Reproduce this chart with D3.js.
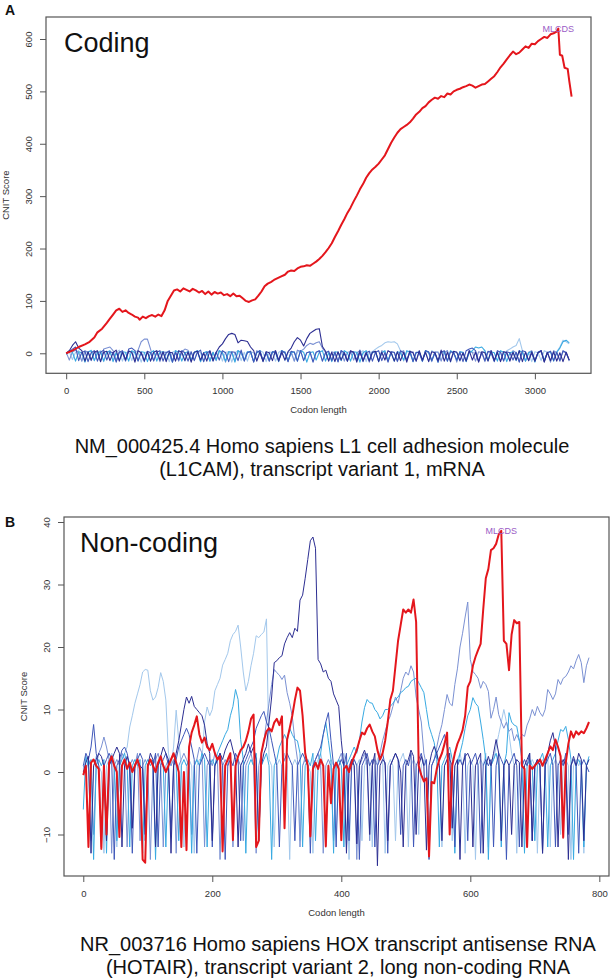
<!DOCTYPE html>
<html><head><meta charset="utf-8">
<script src="https://cdn.jsdelivr.net/npm/d3@7"></script>
<style>body{margin:0;background:#fff}svg{display:block}</style>
</head><body>
<svg id="chart" width="614" height="978"></svg>
<script>
// ---------- DATA ----------
const xTicksA = [0, 500, 1000, 1500, 2000, 2500, 3000];
const yTicksA = [0, 100, 200, 300, 400, 500, 600];
const xTicksB = [0, 200, 400, 600, 800];
const yTicksB = [-10, 0, 10, 20, 30, 40];

// Panel A: red frame (MLCDS) as [codon, score]
const redA = [[0,0],[40,5],[80,12],[120,17],[150,22],[180,30],[200,40],[230,47],[260,58],[280,66],[300,74],[320,82],[340,85],[360,79],[380,82],[400,77],[420,74],[440,70],[460,68],[470,64],[490,70],[510,67],[530,71],[550,73],[570,70],[590,74],[610,71],[630,82],[650,100],[670,110],[690,120],[710,122],[730,118],[750,124],[770,121],[790,118],[810,123],[830,120],[850,116],[870,119],[890,113],[910,118],[930,112],[950,117],[970,114],[990,116],[1010,111],[1030,113],[1050,109],[1070,114],[1090,109],[1110,110],[1130,105],[1150,100],[1170,98],[1190,101],[1210,103],[1230,110],[1250,118],[1270,128],[1290,133],[1310,136],[1330,140],[1350,143],[1370,146],[1400,150],[1420,156],[1440,158],[1460,157],[1480,162],[1500,165],[1520,166],[1540,168],[1560,167],[1580,171],[1600,175],[1620,180],[1640,186],[1660,193],[1680,201],[1700,210],[1720,222],[1740,233],[1760,245],[1780,256],[1800,268],[1820,278],[1840,290],[1860,301],[1880,313],[1900,323],[1920,335],[1940,344],[1960,351],[1980,356],[2000,362],[2020,370],[2040,378],[2060,390],[2080,402],[2100,412],[2120,421],[2140,428],[2160,432],[2180,436],[2200,441],[2220,448],[2240,456],[2260,461],[2280,468],[2300,472],[2320,479],[2340,484],[2360,488],[2380,486],[2400,491],[2420,489],[2440,496],[2460,494],[2480,500],[2500,503],[2520,505],[2540,508],[2560,510],[2580,513],[2600,511],[2620,507],[2640,510],[2660,513],[2680,514],[2700,519],[2720,524],[2740,529],[2760,537],[2780,546],[2800,553],[2820,561],[2840,569],[2860,576],[2880,571],[2900,574],[2920,580],[2940,586],[2960,583],[2980,591],[3000,590],[3020,596],[3040,600],[3060,604],[3080,602],[3100,609],[3120,611],[3140,614],[3150,620],[3160,570],[3175,568],[3190,545],[3210,543],[3220,520],[3235,490]];
const peakA = [3150, 620];

// Panel A: other frames, one score every 20 codons
const stepA = 20;
const navyA = [0,5,15,22,10,5,-15,3,-13,2, 5,-16,2,4,-14,1,6,-15,2,-12, 4,2,-17,5,1,-14,3,-15,2,5, -13,3,-16,2,1,-15,5,2,-14,3, -17,2,4,-13,1,-15,5,-14,2,12, 18,28,36,38,36,20,25,24,22.5,12, 5,-15,2,-16,3,1,-14,5,-15,2, -13,3,10,22,30,25,14,28,38,42, 46,47,13,4,-15,2,-16,3,-13,1, -15,5,2,-17,3,-14,1,-15,2,4, -16,2,-13,5,1,-15,3,-14,2,-17, 4,1,-15,5,-13,2,-16,3,1,-14, 6,-15,2,-16,4,2,-14,1,-15,5, -13,2,-17,3,1,-15,5,-14,2,-16, 3,1,-15,2,-13,5,-16,2,-14,3, -15,1,5,-17,2,-14,3,-15,1,-16, 2,-13];
const blueA = [0,3,8,12,-14,2,4,-16,1,5, -15,2,6,-13,3,1,-17,2,5,-14, 8,10,5,-15,2,-16,4,1,-14,2, 5,-15,1,4,-17,2,-13,5,1,-15, 3,-14,2,6,-16,1,4,-15,2,-13, 5,1,-16,3,2,-14,6,-15,1,4, -17,2,5,-14,1,-15,3,2,-13,5, 1,-16,4,2,-15,5,-14,1,3,-17, 2,5,-15,1,4,-14,2,-16,5,1, -15,3,2,-13,6,-16,1,4,-15,2, 5,-14,1,-17,3,2,-15,5,1,-13, 4,-16,2,1,-15,5,3,-14,1,-17, 2,5,-15,3,1,-13,2,-16,5,8, 10,5,-15,2,-14,4,1,-16,5,2, -15,3,1,-13,2,-17,5,3,-14,1, -15,2,5,-16,1,4,-14,2,-15,5, 1,-13];
const periA = [2,-13,3,6,1,-15,5,2,-14,3, 1,-16,8,10,12,5,-14,3,1,-15, 5,2,-13,6,22,27,27,8,-15,2, -16,3,1,5,-14,2,-15,3,8,6, -13,2,5,-16,1,3,-15,2,-14,5, 1,-17,3,2,-15,5,1,-13,3,2, -16,5,1,-14,3,-15,2,5,-13,1, 3,-16,2,-15,6,4,8,15,19,17, 20,22,10,2,-14,3,1,-16,5,-15, 2,3,-13,1,5,-15,2,-17,3,1, -14,5,2,-15,3,1,-16,2,5,-13, 1,3,-15,2,-14,5,1,-16,3,2, -15,1,5,-13,2,-17,3,1,-14,5, 2,-15,3,1,-16,2,5,-14,1,-15, 3,2,-13,5,1,-16,3,-15,2,5, -14,1,3,-15,2,-17,5,1,-13,3, 2,-15];
const lightA = [1,3,-12,2,5,-15,1,3,6,-14, 2,5,-16,1,3,-13,2,6,-15,1, 3,-14,5,2,-17,1,3,-15,2,5, -13,1,3,-16,2,5,-14,1,-15,3, 2,-13,5,1,-16,3,2,-14,1,5, -15,2,3,-17,1,5,-14,2,-15,3, 1,-13,5,2,-16,3,1,-15,2,5, -14,1,3,-15,2,5,-13,1,3,-16, 2,5,-15,1,3,-14,2,-17,5,1, -15,3,2,-13,1,5,-16,2,3,8, 12,15,20,22,21,22,18,5,-15,2, 5,-14,1,3,-16,2,-15,5,1,3, -13,2,5,-17,1,3,-15,2,-14,5, 1,3,-16,2,5,-13,1,-15,3,2, -14,5,8,12,15,28,5,-15,2,-16, 3,1,-14,5,2,-15,1,3,12,25, 22,18];
const cyanA = [-2,5,2,-15,3,1,-17,2,5,-14, 1,3,-15,2,5,-16,1,-13,3,2, -15,5,1,-14,3,2,-16,1,5,-15, 2,3,-13,1,-17,5,2,-15,1,3, -14,2,5,-16,1,3,-15,2,-13,5, 1,-15,3,2,-17,5,1,-14,3,2, -16,1,5,-15,2,-13,3,1,-16,5, 2,-14,1,3,-15,5,2,-17,1,3, -13,2,5,-15,1,-16,3,2,-14,5, 1,-15,3,2,-17,1,5,-13,2,3, -16,1,5,-14,2,-15,3,1,-13,5, 2,-16,1,3,-15,5,2,-14,1,-17, 3,2,-15,5,1,-13,3,2,-16,1, 5,12,10,12,5,-14,3,1,-15,5, 2,-16,1,3,-14,5,2,-15,1,3, -17,2,5,-13,1,3,-15,2,10,22, 25,20];

// Panel B: one score every 4 codons
const stepB = 4;
const redB = [-0.5,1,-12,1.5,2,1,0.5,-12.3,1,-10, 1.5,2.5,1,0,-10.4,1,2,0.5,1.5,0, 1,2,0.5,-14,-14.5,1,2,1,0,1.5, 2.5,1,0,1,2,3,1.5,0,-12,0, -12.5,4,6.3,7.5,8.9,6,4.7,5.5,4,3.5, 4.5,3,2,2.5,-12.7,1,2,3,-10.9,1, 2.5,3.5,4,5,6.5,8.5,9.2,-12,-11,3, 5,6.5,7,6.5,7.9,8.5,7.5,8.9,-9,5.2, 7,9,11.5,13.5,13,9,3,1,-10.3,0.5, 1.5,0.5,2,1,-11.9,1,-5,0.5,1.5,0.5, -10.9,0.5,1,0,1.5,2.5,3.5,5,6.3,6, 7,7.6,6.5,5.7,3.5,2,3,5,8,11.6, 13,17,21,23.5,26,25.5,26,25.5,27.6,24, 1,-0.5,-1.5,-1,-13.5,-1.6,-1.8,0.5,2,3, 4.5,6.3,-10,1,3,4.5,5.5,6.7,9,13.6, 14.5,17,18.4,19.5,20.5,26,31,32.5,35.5,35.8, 36.5,38,38.6,21,20.5,16.3,22,24.3,23.8,24, 1,0.5,-12,1,0.5,1,1.5,2,1,2, 3,4.1,3.5,5.2,4,2.5,-10.5,1.5,4.5,6.5, 5.5,6.5,6,6.5,6.2,7,8];
const navyB = [0,1.5,2.5,-13,1,2,3,2.5,1,-11, 1,2,3,4,3,-12,1,2.5,1,-9, 1,2,1,0.5,-10,1,3,2,-12,1, 2.5,4,3,2,-13,1,3,5,7.5,10, 12,11,12.1,10.5,10,9.5,9,7.5,4.6,3, -11,1,2,3,2,3.5,4.5,5.2,3.5,2, -12,1,2,3,4.5,3,4,2,-11,1, 3,4.1,8,12,17.5,17.8,18.3,18.6,20.5,21.5, 22.3,21.5,23,22.5,27.5,28.3,31,34,37,37.6, 35.8,18,17.3,16,16.3,15,14.5,12.5,11.5,10.5, 5,1,-13,0.5,2,1,-11.5,1,2.5,3.5, 2,-10,1,3,-15,1,2,1.5,-11,1, 2,3,2,0,-12,1,2,3.5,2.5,-10, 1,2.5,1,-12.5,1,3,4.1,3,1,-11, 1,2,3,-9,1,2,-14,1,2.5,3, 2,-12,1,2,3,-13,1,2.5,1,3, 5.2,3,-11,1,2,1,-10,1,2,1.5, -12,1,2,3,-11,1,2,1,-13,1, 3,5,6.3,4,-12,1,2,1,-14,1, 2.5,1,3,2,-11,1,2];
const blueB = [1,3,2,4,7.6,3,1,-12,1,2, 3,2,-14,1,2,3.5,4,3,1,-13, 1,2,3,2,-11,1,2,1,3,-12, 1,2,3,1,-10,1,2,4,5,6, 7,6,4,2,-13,1,2,3,2,1, -12,1,2,3,1,-14,1,2,1,3, 2,-11,1,2,3,4,5,7,8,9, 9.7,8,7,5,3,1,-12,1,2,3, 2,1,-11,1,2,3,2,1,-13,1, 2,3,4,6,8,9.5,5,1,-12,1, 2,1,3,-11,1,2,1,-14,1,2, 3,1,2,-12,1,2,3,1,-13,1, 2,3,2,-10,1,2,1,3,-12,1, 2,3,1,2,-14,1,2,3,4,5, 6,4,2,1,-12,1,2,1,3,-11, 1,2,3,1,-13,1,2,1,2,-12, 1,3,2,1,-14,1,2,3,1,-12, 1,2,1,3,-11,1,2,1,-13,1, 2,3,1,-12,1,2,1,3,-10,1, 2,1,-13,1,2,1,0];
const periB = [1,0,2,1,-10,1,3,4,5.6,4, 2,-13,1,2,1,3,2,-12,1,2, 1,3,-11,1,2,1,-14,1,2,3, 1,-12,1,2,1,2,-13,1,2,3, 2,1,-10,1,2,4,3,-12,1,2, 1,3,2,-14,1,2,1,3,-12,1, 2,1,-11,1,2,3,1,-13,1,3, 5,8,11,14,16.4,15.9,15.5,14.8,15.5,12.7, 11,8.9,5,2,-12,1,2,1,-10,1, 2,3,1,-13,1,2,1,-11,1,2, 3,1,-12,1,2,1,-14,1,2,3, 1,-11,1,2,1,3,5,6.5,8,9, 10.5,12,11,13,15,16,15.5,17,16,12, 10,8,3,1,-12,1,2,4,6,7.6, 10,12.4,11,10.6,14,16.5,20,22.2,24.8,27.2, 18,16.1,15.6,15,13.4,14.5,14,12.9,8.6,10, 12,9.2,8,7,8,6.5,7,5,6,5, 6,5.7,7.5,8.5,10,9,10.5,9.5,8.9,10, 13.2,12.5,11.6,12.5,14.8,14,15,15.3,16,17, 16.5,17.8,18.8,17.5,14.3,17,18.3];
const lightB = [0.5,2,1,-11,1,2.5,1,0,-13,1, 2,3,2,-12,1,2,3,4,7.2,9, 11,12.5,14,16,16.4,16.3,13,11.5,12,13.5, 15.9,14.5,11.5,3,1,4,9.9,5,1,-12, 1,2,1,-13,1,2,2,8,10.4,9, 10,13,14,15,17.1,18,19,21,22,22.5, 23.5,20,16,13,14.5,17,19,21.8,21.5,22, 22.4,24.5,2,1,-12,1,2,1,3,1, -14,1,2,1,-11,1,2.5,1,0,-13, 1,2,3,1,-12,1,2,1,-10,1, 2,3,1,-14,1,2,1,2,-11,1, 2,1,-12,1,2,3,2,-13,1,2, 1,-11,1,2,3,1,-12,1,2,1, -10,1,2,1,-13,1,2,3,1,-12, 1,2,1,-11,1,2,3,1,-13,1, 2,1,-14,1,2,1,3,-12,1,2, 4,6,8,10,8,6,3,1,-13,1, 2,1,-11,1,2,1,-13,1,2,1, 3,-12,1,2,1,-10,1,2,1,-14, 1,2,1,2,-13,1,2];
const cyanB = [-6,2.5,1,2,-14,1,2,1,2,-13, 1,2,1,-11,1,2,3,1,-12,1, 2,1,2,-13,1,2,1,2,-14,1, 2,1,-12,1,2,3,1,-11,1,2, 1,2,-13,1,2,1,3,2,-12,1, 2,1,3,4,5,6,6.8,9,10.5,13.2, 11.6,5.2,2,-13,1,2,1,3,-11,1, 2,3,1,-14,1,2,4,5,6,5, 7,6,5.2,5,3,-12,1,2,1,3, -11,1,3,6,7.9,5,2,-13,1,2, 1,-12,1,2,3,4,3,5,8,10.3, 11.6,11.1,11,10,9.5,8.5,9,10,10,10.5, 11,11.6,12,12.7,13,13.5,13.7,14.5,14.8,15, 14.3,13.5,12.7,10,7.3,6,4.7,2,-12,1, 2,3,4,2,-13,1,3,4.7,7,9, 10,11.9,11,10.5,8,5.2,2,-14,1,2, 3,1,-12,1,3,9.5,8,7.5,7.3,5, 2,-13,1,2,1,-11,1,2,3,1, -12,1,2,3,5,6.8,6.5,7.3,5.2,2, -14,1,2,1,-12,1,2.5];
const peakB = [648, 38.6];

const colors = {red:"#e4161c", navy:"#2c2e92", blue:"#3f57b9", peri:"#7b91d3", light:"#a3c8ec", cyan:"#38aae2"};
const peakLabel = "MLCDS";

// ---------- DRAW ----------
const svg = d3.select("#chart");
const FONT = "'Liberation Sans', Arial, Helvetica, sans-serif";

function panel(cfg){
  const g = svg.append("g");
  const x = d3.scaleLinear().domain(cfg.xDom).range([cfg.left, cfg.right]);
  const y = d3.scaleLinear().domain(cfg.yDom).range([cfg.bottom, cfg.top]);
  const line = d3.line().x(d => x(d[0])).y(d => y(d[1]));
  const toPts = (arr, step) => arr.map((v, i) => [i * step, v]);

  cfg.blues.forEach(s => {
    g.append("path").attr("d", line(toPts(s.data, cfg.step)))
      .attr("fill","none").attr("stroke", colors[s.c]).attr("stroke-width", cfg.blueWidth)
      .attr("stroke-linejoin","round");
  });
  g.append("path").attr("d", line(cfg.red)).attr("fill","none")
    .attr("stroke", colors.red).attr("stroke-width", 2).attr("stroke-linejoin","round");

  g.append("text").attr("x", x(cfg.peak[0])).attr("y", y(cfg.peak[1]))
    .attr("dy","0.35em").attr("text-anchor","middle").attr("font-family",FONT)
    .attr("font-size",9).attr("fill","#9a5cc6").text(peakLabel);

  g.append("rect").attr("x",cfg.left).attr("y",cfg.top)
    .attr("width",cfg.right-cfg.left).attr("height",cfg.bottom-cfg.top)
    .attr("fill","none").attr("stroke","#555").attr("stroke-width",1.2);

  const fmt = d3.format("d");
  const ax = g.append("g").attr("transform",`translate(0,${cfg.bottom})`)
    .call(d3.axisBottom(x).tickValues(cfg.xTicks).tickFormat(fmt).tickSize(6).tickPadding(8));
  const ay = g.append("g").attr("transform",`translate(${cfg.left},0)`)
    .call(d3.axisLeft(y).tickValues(cfg.yTicks).tickFormat(fmt).tickSize(6));
  [ax, ay].forEach(a => {
    a.select(".domain").remove();
    a.selectAll("line").attr("stroke","#555");
    a.selectAll("text").attr("font-family",FONT).attr("font-size",9.5).attr("fill","#333");
  });
  ay.selectAll(".tick text").attr("x",null).attr("dy",null)
    .attr("transform","translate(-17,0) rotate(-90)").attr("text-anchor","middle")
    .attr("dominant-baseline","middle");

  g.append("text").attr("x",(cfg.left+cfg.right)/2).attr("y",cfg.bottom+40)
    .attr("text-anchor","middle").attr("font-family",FONT).attr("font-size",9.5)
    .attr("fill","#333").text("Codon length");
  g.append("text").attr("transform",`translate(${cfg.left-37},${(cfg.top+cfg.bottom)/2}) rotate(-90)`)
    .attr("text-anchor","middle").attr("font-family",FONT).attr("font-size",9.5)
    .attr("fill","#333").text("CNIT Score");

  g.append("text").attr("x",cfg.titleX).attr("y",cfg.titleY).attr("font-family",FONT)
    .attr("font-size",27).attr("fill","#111").text(cfg.title);
  g.append("text").attr("x",cfg.letterX).attr("y",cfg.letterY).attr("font-family",FONT)
    .attr("font-size",14).attr("font-weight","bold").attr("fill","#111").text(cfg.letter);
  cfg.caption.forEach((t, i) => {
    g.append("text").attr("x",cfg.capX).attr("y",cfg.capY + i*23).attr("text-anchor","middle")
      .attr("font-family",FONT).attr("font-size",20).attr("fill","#111").text(t);
  });
}

panel({
  left:46, right:591, top:17, bottom:373.3,
  xDom:[-129.2, 3359.2], yDom:[-38.2, 642],
  xTicks:xTicksA, yTicks:yTicksA, step:stepA, blueWidth:1.1,
  blues:[{data:lightA,c:"light"},{data:periA,c:"peri"},{data:cyanA,c:"cyan"},{data:blueA,c:"blue"},{data:navyA,c:"navy"}],
  red:redA, peak:peakA,
  title:"Coding", titleX:64, titleY:52, letter:"A", letterX:5, letterY:15,
  caption:["NM_000425.4 Homo sapiens L1 cell adhesion molecule","(L1CAM), transcript variant 1, mRNA"],
  capX:322, capY:453
});

panel({
  left:64, right:609, top:517, bottom:876,
  xDom:[-29.9, 815], yDom:[-16.64, 40.8],
  xTicks:xTicksB, yTicks:yTicksB, step:stepB, blueWidth:1,
  blues:[{data:lightB,c:"light"},{data:periB,c:"peri"},{data:cyanB,c:"cyan"},{data:blueB,c:"blue"},{data:navyB,c:"navy"}],
  red:redB.map((v,i)=>[i*stepB, v]), peak:peakB,
  title:"Non-coding", titleX:80, titleY:552, letter:"B", letterX:5, letterY:527,
  caption:["NR_003716 Homo sapiens HOX transcript antisense RNA","(HOTAIR), transcript variant 2, long non-coding RNA"],
  capX:338, capY:951
});
</script>
</body></html>
